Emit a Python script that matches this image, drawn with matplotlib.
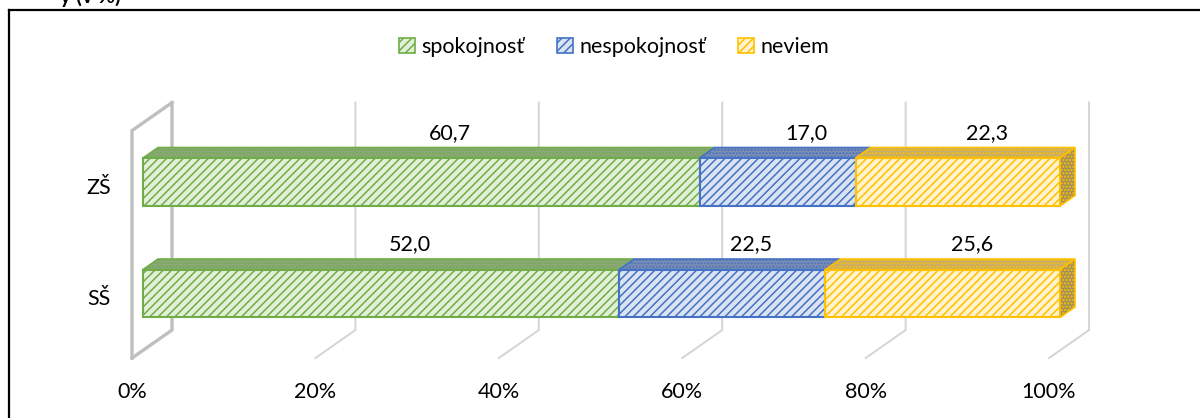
import matplotlib
matplotlib.use('Agg')
import matplotlib.pyplot as plt
from matplotlib.patches import Rectangle, Polygon, Patch
from matplotlib.lines import Line2D
import numpy as np

plt.rcParams['font.family'] = ['Lato', 'DejaVu Sans']
plt.rcParams['hatch.linewidth'] = 1.1

# data
categories = ['SŠ', 'ZŠ']
series = ['spokojnosť', 'nespokojnosť', 'neviem']
values = {
    'SŠ': [52.0, 22.5, 25.6],
    'ZŠ': [60.7, 17.0, 22.3],
}
ticks = [0, 20, 40, 60, 80, 100]
tick_labels = ['0%', '20%', '40%', '60%', '80%', '100%']

main_col = ['#70ad47', '#4472c4', '#ffc000']
light_col = ['#e2f0d9', '#dae3f3', '#fff2cc']
top_col = ['#8fa77f', '#7f8fb0', '#c2ad72']
side_col = '#a08f5c'

# fake 3d geometry (data units)
DX, DY = 40 / 9.17, 28 / 111.5   # shift for full depth
ZF, ZB = 0.275, 0.65             # bar front / back depth
H = 0.215                        # half bar height
YF, YT = -0.51, 1.53             # floor / wall top
FS = 15.5


def proj(x, y, z):
    return (x + DX * (z - ZF), y + DY * (z - ZF))


fig = plt.figure(figsize=(12, 4.18), dpi=100)
ax = fig.add_axes([0, 0, 1, 1])
ax.set_xlim(-143 / 9.17, (1200 - 143) / 9.17)
ax.set_ylim((293.5 - 418) / 111.5, 293.5 / 111.5)
ax.axis('off')

# walls / gridlines
for t in ticks:
    c, lw = ('#bfbfbf', 2.4) if t == 0 else ('#d4d4d4', 1.4)
    pts = [proj(t, YT, 1), proj(t, YF, 1), proj(t, YF, 0)]
    ax.plot(*zip(*pts), color=c, lw=lw, zorder=1, solid_joinstyle='miter')
pts = [proj(0, YT, 1), proj(0, YT, 0), proj(0, YF, 0)]
ax.plot(*zip(*pts), color='#bfbfbf', lw=2.4, zorder=1, solid_joinstyle='miter')

for t, lab in zip(ticks, tick_labels):
    x, y = proj(t, YF, 0)
    ax.text(x, y - 0.3, lab, ha='center', va='center', fontsize=FS)

# bars
for yi, cat in enumerate(categories):
    vals = np.array(values[cat])
    pct = vals / vals.sum() * 100
    left = 0
    for k, v in enumerate(pct):
        ax.add_patch(Rectangle((left, yi - H), v, 2 * H, facecolor=light_col[k],
                               edgecolor=main_col[k], hatch='////', lw=1.5, zorder=3))
        top = [proj(left, yi + H, ZF), proj(left + v, yi + H, ZF),
               proj(left + v, yi + H, ZB), proj(left, yi + H, ZB)]
        ax.add_patch(Polygon(top, facecolor=top_col[k], edgecolor=main_col[k],
                             hatch='.....', lw=1.2, zorder=3))
        lx, ly = proj(left + v / 2, yi + H, 1)
        ax.text(lx, ly + 0.045, f'{vals[k]:.1f}'.replace('.', ','), ha='center',
                va='center', fontsize=FS, zorder=5)
        left += v
    side = [proj(100, yi - H, ZF), proj(100, yi + H, ZF),
            proj(100, yi + H, ZB), proj(100, yi - H, ZB)]
    ax.add_patch(Polygon(side, facecolor=side_col, edgecolor=main_col[2],
                         hatch='.....', lw=1.2, zorder=3))
    ax.text(proj(0, 0, 0)[0] - 3.6, yi - 0.05, cat, ha='center', va='center', fontsize=FS)

# legend
handles = [Patch(facecolor=light_col[k], edgecolor=main_col[k], hatch='////', lw=1.2)
           for k in range(3)]
fig.legend(handles, series, loc='center', bbox_to_anchor=(614 / 1200, 1 - 47 / 418),
           ncol=3, frameon=False, fontsize=FS, handlelength=0.75, handleheight=0.75,
           handletextpad=0.3, columnspacing=1.5)

# chart frame and clipped title above
fig.add_artist(Line2D([9 / 1200, 1.0], [1 - 10 / 418] * 2, color='black', lw=1.6))
fig.add_artist(Line2D([9 / 1200] * 2, [0, 1 - 10 / 418], color='black', lw=1.6))
fig.text(60 / 1200, 1 - 3 / 418, 'y (v %)', fontsize=15, fontweight='bold',
         ha='left', va='baseline')

fig.savefig('out.png', dpi=100)
